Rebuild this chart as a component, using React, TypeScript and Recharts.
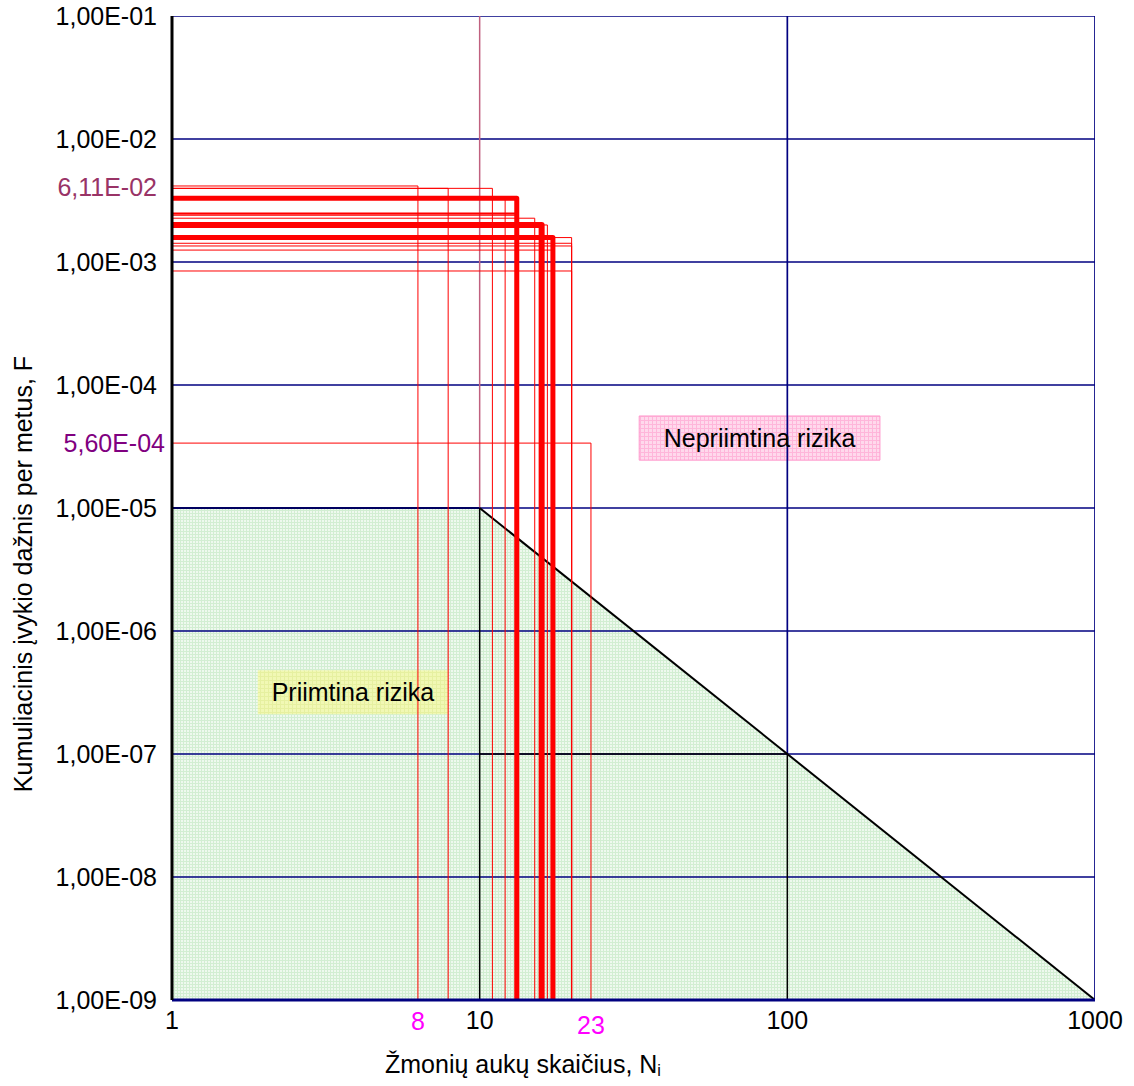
import React from "react";
import {
  ComposedChart,
  Line,
  Area,
  XAxis,
  YAxis,
  ReferenceArea,
  ReferenceDot,
} from "recharts";

const xTicks = [1, 10, 100, 1000];
const yTicks = [1e-9, 1e-8, 1e-7, 1e-6, 1e-5, 1e-4, 1e-3, 1e-2, 1e-1];

// acceptable risk criterion line
const criterionN = [1, 10, 100, 1000];
const criterionF = [1e-5, 1e-5, 1e-7, 1e-9];

// F-N steps of the scenarios (N victims, cumulative frequency, line weight)
const scenarioN = [6.3, 7.9, 11.0, 12.1, 13.2, 13.1, 13.1, 15.1, 15.9, 16.6, 17.3, 19.9, 19.9, 19.9, 17.3, 19.9, 23];
const scenarioF = [
  4.15e-3, 3.97e-3, 3.97e-3, 3.3e-3, 3.3e-3, 2.49e-3, 2.41e-3, 2.27e-3, 2.0e-3,
  2.0e-3, 1.58e-3, 1.58e-3, 1.42e-3, 1.35e-3, 1.25e-3, 8.45e-4, 3.37e-5,
];
const scenarioW = [1, 1, 1, 1, 5, 1.5, 1.5, 1, 6, 1, 5, 1, 1, 1, 1, 1, 1];

const fLabels = ["6,11E-02", "5,60E-04"];
const fLabelAt = [4.1e-3, 3.37e-5];
const fLabelColors = ["#993366", "#800080"];

const nLabels = ["8", "23"];
const nLabelAt = [6.3, 23];

const FLOOR = 1e-9;
const font = "'Liberation Sans', Arial, sans-serif";

const fmtY = (v: number) =>
  "1,00E-" + String(Math.round(-Math.log10(v))).padStart(2, "0");

const seg = (a: [number, number], b: [number, number]) => [
  { n: a[0], f: a[1] },
  { n: b[0], f: b[1] },
];

export default function App() {
  const areaData = criterionN.map((n, i) => ({ n, f: criterionF[i] }));

  return (
    <div style={{ position: "absolute", left: 0, top: 0, width: 1134, height: 1086, background: "#fff" }}>
      <ComposedChart
        width={1134}
        height={1086}
        margin={{ top: 16, right: 39, bottom: 56, left: 112 }}
        style={{ fontFamily: font }}
      >
        <defs>
          <pattern id="greenDots" width="3" height="3" patternUnits="userSpaceOnUse">
            <rect width="3" height="3" fill="#eef9ee" />
            <rect width="3" height="1" fill="#d2eed2" />
            <rect width="1" height="3" fill="#d2eed2" />
          </pattern>
          <pattern id="pinkDots" width="4" height="4" patternUnits="userSpaceOnUse">
            <rect width="4" height="4" fill="#ffd9ec" />
            <rect width="4" height="1" fill="#ffb6da" />
            <rect width="1" height="4" fill="#ffb6da" />
          </pattern>
          <pattern id="yellowDots" width="4" height="4" patternUnits="userSpaceOnUse">
            <rect width="4" height="4" fill="#f1f8b4" />
            <rect width="4" height="1" fill="#e6f0a0" />
            <rect width="1" height="4" fill="#e6f0a0" />
          </pattern>
        </defs>

        <XAxis
          dataKey="n"
          type="number"
          scale="log"
          domain={[1, 1000]}
          ticks={xTicks}
          allowDataOverflow
          height={30}
          tickLine={false}
          tickSize={0}
          tickMargin={11}
          axisLine={{ stroke: "#000080", strokeWidth: 3 }}
          tick={{ fill: "#000", fontSize: 25, fontFamily: font }}
          tickFormatter={(v: number) => String(Math.round(v))}
          label={{
            content: () => (
              <text x={385} y={1073} fontSize={25} fontFamily={font} fill="#000">
                Žmonių aukų skaičius, N
                <tspan fontSize={16} dy={3}>i</tspan>
              </text>
            ),
          }}
        />
        <YAxis
          dataKey="f"
          type="number"
          scale="log"
          domain={[1e-9, 1e-1]}
          ticks={yTicks}
          allowDataOverflow
          width={60}
          tickLine={false}
          tickSize={0}
          tickMargin={15}
          axisLine={{ stroke: "#000", strokeWidth: 3 }}
          tick={{ fill: "#000", fontSize: 25, fontFamily: font }}
          tickFormatter={fmtY}
          label={{
            content: () => (
              <text
                x={0}
                y={0}
                transform="translate(32,574) rotate(-90)"
                textAnchor="middle"
                fontSize={25}
                fontFamily={font}
                fill="#000"
              >
                Kumuliacinis įvykio dažnis per metus, F
              </text>
            ),
          }}
        />

        <Area
          data={areaData}
          dataKey="f"
          type="linear"
          baseValue={FLOOR}
          fill="url(#greenDots)"
          fillOpacity={1}
          stroke="none"
          isAnimationActive={false}
        />

        <ReferenceArea
          x1={33}
          x2={200}
          y1={2.45e-5}
          y2={5.6e-5}
          fill="url(#pinkDots)"
          fillOpacity={1}
          stroke="#ff99cc"
          label={{ value: "Nepriimtina rizika", position: "center", fontSize: 25, fill: "#000" }}
        />
        <ReferenceArea
          x1={1.9}
          x2={7.9}
          y1={2.1e-7}
          y2={4.8e-7}
          fill="url(#yellowDots)"
          fillOpacity={1}
          stroke="none"
          label={{ value: "Priimtina rizika", position: "center", fontSize: 25, fill: "#000" }}
        />

        {yTicks.map((t) => (
          <Line
            key={"gy" + t}
            data={seg([1, t], [1000, t])}
            dataKey="f"
            stroke="#000080"
            strokeWidth={1.7}
            dot={false}
            isAnimationActive={false}
          />
        ))}
        <Line data={seg([1000, FLOOR], [1000, 1e-1])} dataKey="f" stroke="#000080" strokeWidth={1.7} dot={false} isAnimationActive={false} />
        <Line data={seg([100, 1e-7], [100, 1e-1])} dataKey="f" stroke="#000080" strokeWidth={1.7} dot={false} isAnimationActive={false} />
        <Line data={seg([10, 1e-5], [10, 1e-1])} dataKey="f" stroke="#c0607f" strokeWidth={1.5} dot={false} isAnimationActive={false} />

        <Line data={seg([1, 1e-5], [10, 1e-5])} dataKey="f" stroke="#000060" strokeWidth={2} dot={false} isAnimationActive={false} />
        <Line data={seg([10, 1e-5], [1000, FLOOR])} dataKey="f" stroke="#000" strokeWidth={2} dot={false} isAnimationActive={false} />
        <Line data={seg([10, 1e-5], [10, FLOOR])} dataKey="f" stroke="#000" strokeWidth={1.5} dot={false} isAnimationActive={false} />
        <Line data={seg([10, 1e-7], [100, 1e-7])} dataKey="f" stroke="#000" strokeWidth={1.5} dot={false} isAnimationActive={false} />
        <Line data={seg([100, 1e-7], [100, FLOOR])} dataKey="f" stroke="#000" strokeWidth={1.5} dot={false} isAnimationActive={false} />

        {scenarioN.map((n, i) => (
          <Line
            key={"s" + i}
            data={[
              { n: 1, f: scenarioF[i] },
              { n, f: scenarioF[i] },
              { n, f: FLOOR },
            ]}
            dataKey="f"
            type="linear"
            stroke="#ff0000"
            strokeWidth={scenarioW[i]}
            strokeLinecap="round"
            strokeLinejoin="round"
            dot={false}
            isAnimationActive={false}
          />
        ))}

        {fLabels.map((txt, i) => (
          <ReferenceDot
            key={"fl" + i}
            x={1}
            y={fLabelAt[i]}
            r={0}
            fill="none"
            stroke="none"
            label={{ value: txt, position: "left", offset: i === 0 ? 15 : 7, fill: fLabelColors[i], fontSize: 25 }}
          />
        ))}
        {nLabels.map((txt, i) => (
          <ReferenceDot
            key={"nl" + i}
            x={nLabelAt[i]}
            y={FLOOR}
            r={0}
            fill="none"
            stroke="none"
            label={{ value: txt, position: "bottom", offset: i === 0 ? 12 : 16, fill: "#ff00ff", fontSize: 25 }}
          />
        ))}
      </ComposedChart>
    </div>
  );
}
